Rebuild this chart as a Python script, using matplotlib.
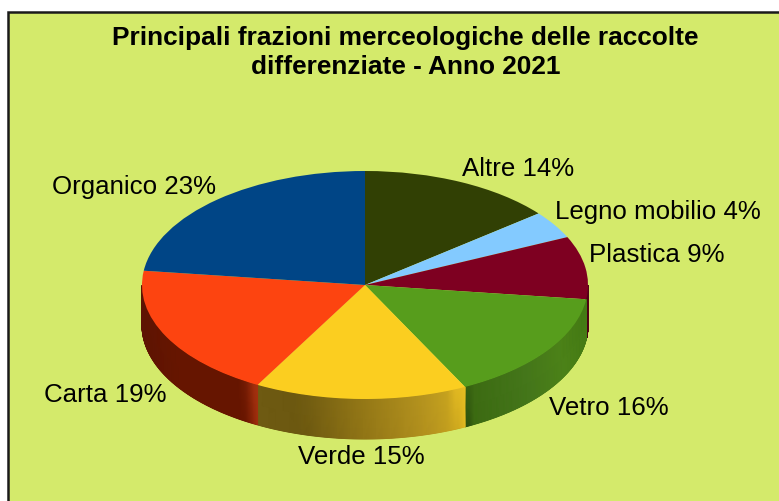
import numpy as np
import matplotlib
matplotlib.use("Agg")
import matplotlib.pyplot as plt
from matplotlib.colors import LinearSegmentedColormap
from matplotlib.patches import Rectangle

W, H = 779, 501

# dati (in senso orario dalle ore 12)
categories = ["Altre", "Legno mobilio", "Plastica", "Vetro", "Verde", "Carta", "Organico"]
values = [14.2, 3.9, 8.9, 15.6, 15.4, 19.0, 23.0]
colors = ["#314004", "#83CAFF", "#7E0021", "#579D1C", "#FBCE20", "#FD4410", "#004586"]
title = "Principali frazioni merceologiche delle raccolte\ndifferenziate - Anno 2021"

# sfumature del bordo laterale, da sinistra a destra
wall_shades = {
    "Plastica": [(0, "#4A0014"), (1, "#5A0018")],
    "Vetro": [(0, "#2C4E0E"), (0.04, "#3C6A12"), (0.5, "#44761A"), (0.8, "#4C8218"), (1, "#447A14")],
    "Verde": [(0, "#6E5A12"), (0.2, "#6C5810"), (0.5, "#927616"), (0.8, "#B4921E"),
              (0.94, "#C8A41E"), (0.985, "#EAC022"), (1, "#EAC022")],
    "Carta": [(0, "#5E1403"), (0.3, "#661500"), (0.86, "#661500"), (0.93, "#7E2006"), (1, "#AC3410")],
}
label_pos = {
    "Altre": (518.5, 169),
    "Legno mobilio": (658, 212),
    "Plastica": (656.5, 255),
    "Vetro": (608.5, 408),
    "Verde": (361.5, 457),
    "Carta": (105.5, 395),
    "Organico": (134.5, 187),
}

plt.rcParams["font.family"] = ["Liberation Sans", "DejaVu Sans"]
BG = "#D4EA6B"

fig = plt.figure(figsize=(W / 100, H / 100), dpi=100, facecolor="white")

# sfondo e cornice, in pixel
overlay = fig.add_axes([0, 0, 1, 1], zorder=0)
overlay.set_xlim(0, W)
overlay.set_ylim(H, 0)
overlay.axis("off")
overlay.add_patch(Rectangle((8, 12), W + 20, H + 20, fc=BG, ec="#1a1a1a", lw=1.8))

# torta schiacciata: rx 223, ry 114 attorno a (365, 285)
cx, cy, rx, ry, depth = 365, 285, 223, 114, 40
ax = fig.add_axes([(cx - rx) / W, 1 - (cy + ry) / H, 2 * rx / W, 2 * ry / H], zorder=1)
ax.pie(values, colors=colors, startangle=90, counterclock=False, radius=1,
       wedgeprops={"linewidth": 0, "zorder": 3})
ax.set_aspect("auto")
ax.set_xlim(-1, 1)
ax.set_ylim(-1, 1)
ax.axis("off")

# bordo laterale
d = depth / ry
ends = np.cumsum(values) / sum(values) * 360
starts = ends - np.array(values) / sum(values) * 360
for name, a0, a1 in zip(categories, starts, ends):
    lo, hi = max(a0, 90), min(a1, 270)
    if lo >= hi or name not in wall_shades:
        continue
    cmap = LinearSegmentedColormap.from_list(name, wall_shades[name])
    th = np.radians(np.linspace(lo, hi, 200))
    xs = np.sin(th)
    ys = np.cos(th)
    t = (xs - xs.min()) / (xs.max() - xs.min())
    X = np.vstack([xs, xs])
    Y = np.vstack([ys, ys - d])
    ax.pcolormesh(X, Y, np.vstack([t + 0.03, t - 0.03]), cmap=cmap, vmin=0, vmax=1,
                  shading="gouraud", zorder=2, clip_on=False)

for wedge in ax.patches:
    wedge.set_clip_on(False)

# testi
overlay2 = fig.add_axes([0, 0, 1, 1], zorder=2)
overlay2.set_xlim(0, W)
overlay2.set_ylim(H, 0)
overlay2.axis("off")
overlay2.text(405.5, 52.5, title, ha="center", va="center", fontsize=18.95, fontweight="bold",
              color="black", linespacing=1.3)
for name, v in zip(categories, values):
    x, y = label_pos[name]
    overlay2.text(x, y, f"{name} {v:.0f}%", ha="center", va="center", fontsize=18.6, color="black")

fig.savefig("out.png", dpi=100, facecolor="white")
